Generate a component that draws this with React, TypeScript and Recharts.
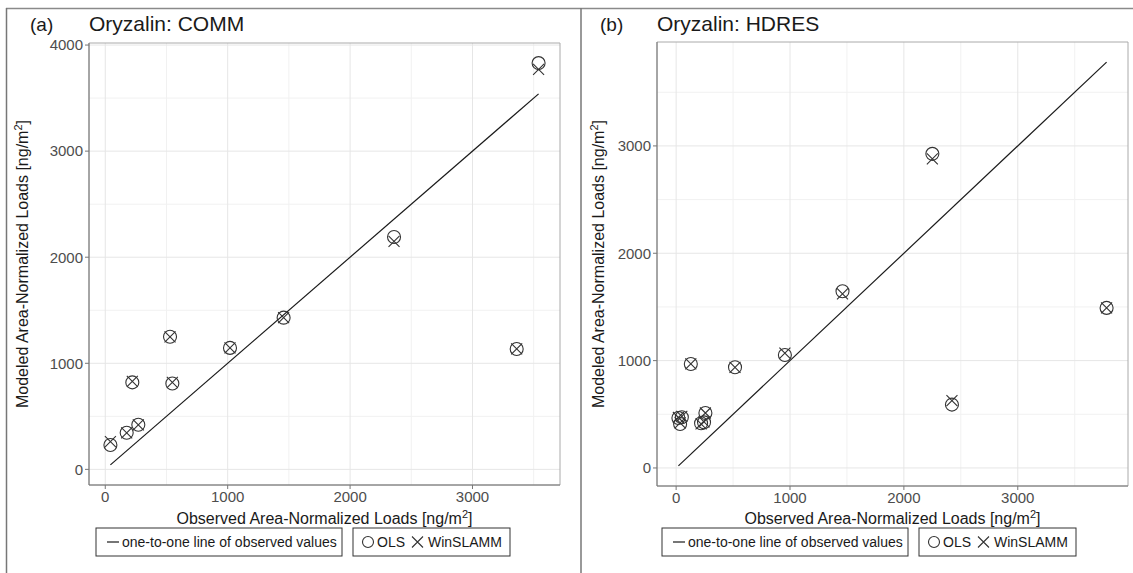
import {
  CartesianGrid,
  ReferenceArea,
  ReferenceLine,
  Scatter,
  ScatterChart,
  XAxis,
  YAxis,
} from 'recharts';

// Panel (a): Oryzalin COMM
const commObserved = [42, 175, 270, 221, 529, 548, 1019, 1457, 2359, 3361, 3540];
const commOLS = [230, 345, 420, 820, 1250, 810, 1145, 1430, 2190, 1135, 3830];
const commWinSLAMM = [262, 345, 420, 830, 1250, 820, 1145, 1430, 2150, 1135, 3770];

// Panel (b): Oryzalin HDRES
const hdresObserved = [20, 50, 35, 129, 219, 245, 257, 517, 955, 1461, 2250, 2422, 3780];
const hdresOLS = [466, 472, 410, 969, 416, 425, 512, 938, 1053, 1646, 2926, 590, 1491];
const hdresWinSLAMM = [470, 480, 420, 969, 410, 430, 512, 938, 1070, 1621, 2880, 627, 1491];

const commXTicks = [0, 1000, 2000, 3000];
const commYTicks = [0, 1000, 2000, 3000, 4000];
const hdresXTicks = [0, 1000, 2000, 3000];
const hdresYTicks = [0, 1000, 2000, 3000];

const FONT = '"Liberation Sans", Arial, Helvetica, sans-serif';
const INK = '#333333';

// ggplot-style 5% range expansion
function expand(vals: number[]): [number, number] {
  const lo = Math.min(...vals);
  const hi = Math.max(...vals);
  const pad = (hi - lo) * 0.05;
  return [lo - pad, hi + pad];
}

function minors(ticks: number[], dom: [number, number]) {
  const step = ticks[1] - ticks[0];
  const out: number[] = [];
  for (let v = ticks[0] - step / 2; v <= dom[1]; v += step) {
    if (v >= dom[0]) out.push(v);
  }
  return out;
}

const OpenCircle = (p: any) => (
  <circle cx={p.cx} cy={p.cy} r={6.5} fill="none" stroke={INK} strokeWidth={1.1} />
);

const Cross = (p: any) => {
  const s = 5.5;
  return (
    <path
      d={`M${p.cx - s},${p.cy - s}L${p.cx + s},${p.cy + s}M${p.cx - s},${p.cy + s}L${p.cx + s},${p.cy - s}`}
      stroke={INK}
      strokeWidth={1.1}
      fill="none"
    />
  );
};

function Panel({
  observed,
  ols,
  win,
  xTicks,
  yTicks,
  width,
  margin,
}: {
  observed: number[];
  ols: number[];
  win: number[];
  xTicks: number[];
  yTicks: number[];
  width: number;
  margin: { top: number; right: number; bottom: number; left: number };
}) {
  const xDom = expand(observed);
  const yDom = expand([...observed, ...ols, ...win]);
  const lo = Math.min(...observed);
  const hi = Math.max(...observed);
  const olsData = observed.map((x, i) => ({ x, y: ols[i] }));
  const winData = observed.map((x, i) => ({ x, y: win[i] }));

  return (
    <ScatterChart width={width} height={520} margin={margin}>
      <CartesianGrid
        stroke="#f1f1f1"
        strokeWidth={1}
        verticalValues={minors(xTicks, xDom)}
        horizontalValues={minors(yTicks, yDom)}
      />
      <CartesianGrid
        stroke="#e6e6e6"
        strokeWidth={1}
        verticalValues={xTicks}
        horizontalValues={yTicks}
      />
      <XAxis
        type="number"
        dataKey="x"
        domain={xDom}
        ticks={xTicks}
        interval={0}
        allowDataOverflow
        height={30}
        tickSize={4}
        stroke="#777"
        tick={{ fill: '#4d4d4d', fontSize: 15, fontFamily: FONT }}
      />
      <YAxis
        type="number"
        dataKey="y"
        domain={yDom}
        ticks={yTicks}
        interval={0}
        allowDataOverflow
        width={50}
        tickSize={4}
        stroke="#777"
        tick={{ fill: '#4d4d4d', fontSize: 15, fontFamily: FONT }}
      />
      <ReferenceArea
        x1={xDom[0]}
        x2={xDom[1]}
        y1={yDom[0]}
        y2={yDom[1]}
        fill="none"
        stroke="#aaaaaa"
        strokeWidth={1}
      />
      <ReferenceLine
        segment={[
          { x: lo, y: lo },
          { x: hi, y: hi },
        ]}
        stroke="#1a1a1a"
        strokeWidth={1.2}
      />
      <Scatter data={olsData} shape={OpenCircle} isAnimationActive={false} />
      <Scatter data={winData} shape={Cross} isAnimationActive={false} />
    </ScatterChart>
  );
}

function LegendPair({ left }: { left: number }) {
  const top = 528;
  const h = 28;
  const base = top + 19;
  const b2 = left + 257;
  const my = top + h / 2;
  return (
    <g fontFamily={FONT} fontSize={14} fill="#1a1a1a">
      <rect x={left} y={top} width={246} height={h} fill="white" stroke="#333" strokeWidth={1} />
      <line x1={left + 11} x2={left + 23} y1={my} y2={my} stroke="#1a1a1a" strokeWidth={1.2} />
      <text x={left + 26} y={base}>one-to-one line of observed values</text>
      <rect x={b2} y={top} width={157} height={h} fill="white" stroke="#333" strokeWidth={1} />
      <circle cx={b2 + 15} cy={my} r={5.5} fill="none" stroke={INK} strokeWidth={1.1} />
      <text x={b2 + 24} y={base}>OLS</text>
      <path
        d={`M${b2 + 59},${my - 5.5}L${b2 + 70},${my + 5.5}M${b2 + 59},${my + 5.5}L${b2 + 70},${my - 5.5}`}
        stroke={INK}
        strokeWidth={1.1}
      />
      <text x={b2 + 75} y={base}>WinSLAMM</text>
    </g>
  );
}

function AxisTitles({ cx, yTitleX }: { cx: number; yTitleX: number }) {
  return (
    <g fontFamily={FONT} fontSize={16} fill="#1a1a1a">
      <text x={cx} y={524} textAnchor="middle">
        Observed Area-Normalized Loads [ng/m<tspan fontSize={11} dy={-6}>2</tspan>
        <tspan dy={6}>]</tspan>
      </text>
      <text x={yTitleX} y={264} textAnchor="middle" transform={`rotate(-90, ${yTitleX}, 264)`}>
        Modeled Area-Normalized Loads [ng/m<tspan fontSize={11} dy={-6}>2</tspan>
        <tspan dy={6}>]</tspan>
      </text>
    </g>
  );
}

export default function App() {
  return (
    <div
      style={{
        position: 'absolute',
        left: 0,
        top: 0,
        width: 1133,
        height: 573,
        background: 'white',
        fontFamily: FONT,
        overflow: 'hidden',
      }}
    >
      <div style={{ position: 'absolute', left: 0, top: 0 }}>
        <Panel
          observed={commObserved}
          ols={commOLS}
          win={commWinSLAMM}
          xTicks={commXTicks}
          yTicks={commYTicks}
          width={575}
          margin={{ top: 43, right: 15, bottom: 5, left: 39 }}
        />
      </div>
      <div style={{ position: 'absolute', left: 581, top: 0 }}>
        <Panel
          observed={hdresObserved}
          ols={hdresOLS}
          win={hdresWinSLAMM}
          xTicks={hdresXTicks}
          yTicks={hdresYTicks}
          width={552}
          margin={{ top: 42, right: 5, bottom: 4, left: 26 }}
        />
      </div>
      <svg
        width={1133}
        height={573}
        style={{ position: 'absolute', left: 0, top: 0, pointerEvents: 'none' }}
      >
        <line x1={6} x2={1133} y1={8.5} y2={8.5} stroke="#8a8a8a" strokeWidth={1.5} />
        <line x1={6.5} x2={6.5} y1={8} y2={573} stroke="#777" strokeWidth={1.5} />
        <line x1={581} x2={581} y1={8} y2={573} stroke="#777" strokeWidth={1.5} />
        <g fontFamily={FONT} fill="#1a1a1a">
          <text x={30} y={31} fontSize={19}>(a)</text>
          <text x={89} y={31} fontSize={21}>Oryzalin: COMM</text>
          <text x={600} y={31} fontSize={19}>(b)</text>
          <text x={657} y={31} fontSize={21}>Oryzalin: HDRES</text>
        </g>
        <AxisTitles cx={324.5} yTitleX={28} />
        <AxisTitles cx={892.5} yTitleX={604} />
        <LegendPair left={96} />
        <LegendPair left={662} />
      </svg>
    </div>
  );
}
